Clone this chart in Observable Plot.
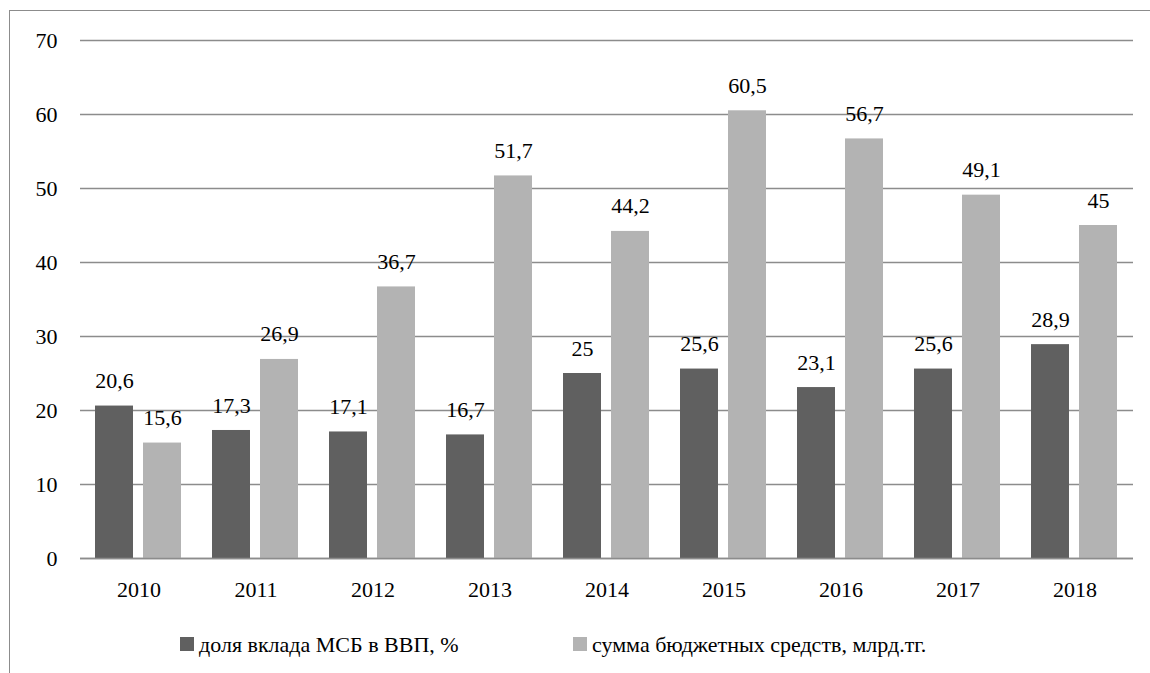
<!DOCTYPE html>
<html>
<head>
<meta charset="utf-8">
<script src="https://cdn.jsdelivr.net/npm/d3@7"></script>
<script src="https://cdn.jsdelivr.net/npm/@observablehq/plot@0.6"></script>
</head>
<body style="margin:0;background:#fff">
<div id="wrap" style="position:relative;width:1150px;height:673px;overflow:hidden">
  <div id="frame" style="position:absolute;left:9px;top:10px;width:1200px;height:700px;border:1.5px solid #8c8c8c;box-sizing:border-box"></div>
  <div id="chart" style="position:absolute;left:0;top:0"></div>
  <div id="legend" style="position:absolute;left:0;top:620px"></div>
</div>
<script>
const years = ["2010","2011","2012","2013","2014","2015","2016","2017","2018"];
const seriesNames = ["доля вклада МСБ в ВВП, %", "сумма бюджетных средств, млрд.тг."];
const shareValues = [20.6, 17.3, 17.1, 16.7, 25, 25.6, 23.1, 25.6, 28.9];
const budgetValues = [15.6, 26.9, 36.7, 51.7, 44.2, 60.5, 56.7, 49.1, 45];
const seriesColors = ["#606060", "#b3b3b3"];
const yTicks = [0, 10, 20, 30, 40, 50, 60, 70];

const FONT = '"Liberation Serif", serif';
const FS = 22;

const data = [];
years.forEach((y, i) => {
  data.push({year: y, series: seriesNames[0], value: shareValues[i]});
  data.push({year: y, series: seriesNames[1], value: budgetValues[i]});
});
const fmt = v => String(v).replace(".", ",");

const plot = Plot.plot({
  width: 1150,
  height: 620,
  marginLeft: 76,
  marginRight: 14,
  marginTop: 40,
  marginBottom: 62,
  style: {fontFamily: FONT, fontSize: FS + "px", background: "transparent", color: "#000"},
  fx: {domain: years, padding: 0, label: null},
  x: {domain: seriesNames, paddingInner: 0.2, paddingOuter: 0.302, axis: null},
  y: {domain: [0, 70], ticks: yTicks, label: null},
  color: {domain: seriesNames, range: seriesColors},
  marks: [
    Plot.gridY(yTicks, {stroke: "#8c8c8c", strokeOpacity: 1, strokeWidth: 1.5}),
    Plot.barY(data, {fx: "year", x: "series", y: "value", fill: "series"}),
    Plot.ruleY([0], {stroke: "#8c8c8c", strokeWidth: 1.5}),
    Plot.text(data, {fx: "year", x: "series", y: "value", text: d => fmt(d.value), dy: -25, fill: "#000"}),
    Plot.axisY(yTicks, {tickSize: 0, tickPadding: 23, label: null, tickFormat: d => String(d)}),
    Plot.axisFx({anchor: "bottom", tickSize: 0, tickPadding: 23, label: null})
  ]
});
document.getElementById("chart").appendChild(plot);

// legend drawn as SVG text
const legendLefts = [180, 573];
const lsvg = d3.select("#legend").append("svg").attr("width", 1150).attr("height", 53)
  .style("font-family", FONT).style("font-size", FS + "px");
seriesNames.forEach((name, i) => {
  lsvg.append("rect").attr("x", legendLefts[i]).attr("y", 17).attr("width", 14).attr("height", 14).attr("fill", seriesColors[i]);
  lsvg.append("text").attr("x", legendLefts[i] + 19).attr("y", 32)
    .attr("fill", "#000")
    .text(name);
});
</script>
</body>
</html>
